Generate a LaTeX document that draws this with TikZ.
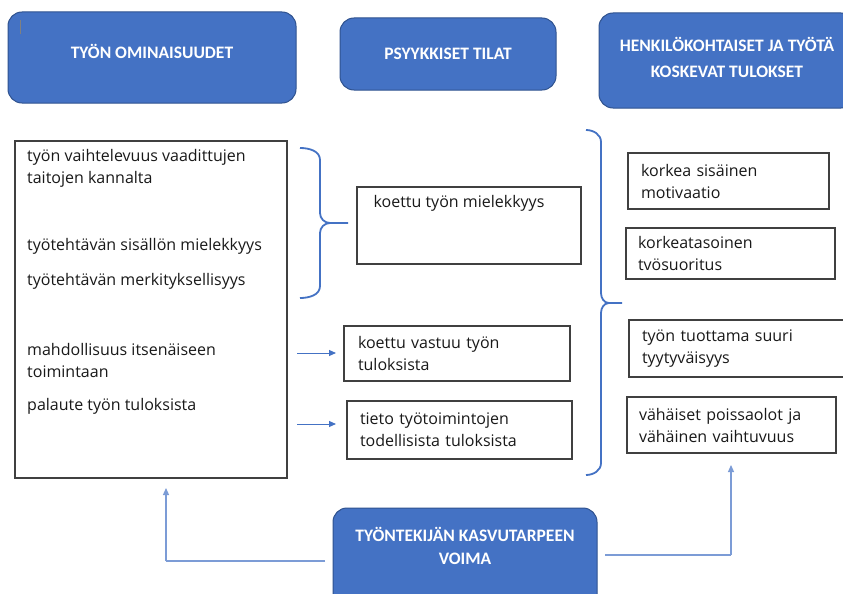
\documentclass[tikz,border=0pt]{standalone}
\usepackage{fontspec}
\setmainfont{Carlito}
\newfontfamily\bodyfont{Open Sans}
\usetikzlibrary{arrows.meta}
\definecolor{bfill}{HTML}{4472C4}
\definecolor{bdraw}{HTML}{2F528F}
\definecolor{gline}{HTML}{404040}
\definecolor{aline}{HTML}{4472C4}
\tikzset{
  bluebox/.style={draw=bdraw, line width=1pt, fill=bfill, rounded corners=14pt, text=white, align=center, font=\bfseries\fontsize{17.5}{26}\selectfont, inner sep=0pt},
  htxt/.style={text=white, align=center, inner sep=0pt},
  wbox/.style={draw=gline, line width=1.2pt, fill=white, inner sep=0pt},
  txt/.style={font=\bodyfont\fontsize{16}{22}\selectfont, align=left, inner sep=0pt, text=black!90},
  bracepath/.style={draw=aline, line width=1.8pt},
  arr/.style={draw=aline, line width=1pt, -{Triangle[length=7pt,width=6pt]}},
  conn/.style={draw=aline!70, line width=1.2pt}
}
\begin{document}
\begin{tikzpicture}[x=1pt,y=-1pt]
\useasboundingbox[fill=white] (0,0) rectangle (843,594);
% top header boxes
\node[bluebox, minimum width=288pt, minimum height=91pt] (h1) at (152,57.5) {};
\node[htxt, font=\bfseries\fontsize{17.5}{26}\selectfont] (h1t) at (152,51) {TYÖN OMINAISUUDET};
\draw[gray, line width=1pt] (20,20) -- (20,34);
\node[bluebox, minimum width=216pt, minimum height=72pt] (h2) at (448,54) {PSYYKKISET TILAT};
\node[bluebox, minimum width=256pt, minimum height=95pt] (h3) at (727,60.5) {};
\node[htxt, font=\bfseries\fontsize{17.5}{26}\selectfont] (h3t) at (727,57) {HENKILÖKOHTAISET JA TYÖTÄ\\KOSKEVAT TULOKSET};
% left box
\node[wbox, minimum width=272pt, minimum height=337pt] (left) at (151,309.5) {};
\node[txt, anchor=west] (l1) at (27,168) {työn vaihtelevuus vaadittujen\\taitojen kannalta};
\node[txt, anchor=west] (l2) at (27,246) {työtehtävän sisällön mielekkyys};
\node[txt, anchor=west] (l3) at (27,281) {työtehtävän merkityksellisyys};
\node[txt, anchor=west] (l4) at (27,360.5) {mahdollisuus itsenäiseen\\toimintaan};
\node[txt, anchor=west] (l5) at (27,406) {palaute työn tuloksista};
% brace 1
\draw[bracepath] (300,148) to[out=0,in=90] (320,160) -- (320,213) to[out=270,in=180] (330,223) -- (348,223);
\draw[bracepath] (330,223) to[out=180,in=90] (320,233) -- (320,286) to[out=270,in=0] (300,298);
% middle boxes
\node[wbox, minimum width=224pt, minimum height=77pt] (m1) at (469,225.5) {};
\node[txt, anchor=north west] (m1t) at ([shift={(17pt,-9pt)}]m1.north west) {koettu työn mielekkyys};
\node[wbox, minimum width=226pt, minimum height=55pt, text width=198pt, txt] (m2) at (457,353.5) {koettu vastuu työn\\tuloksista};
\node[wbox, minimum width=225pt, minimum height=58pt, text width=199pt, txt] (m3) at (459.5,430) {tieto työtoimintojen\\todellisista tuloksista};
\coordinate (a1s) at (297,353);
\coordinate (a2s) at (297,424);
\draw[arr] (a1s) -- (336,353);
\draw[arr] (a2s) -- (336,424);
% brace 2
\draw[bracepath] (586,130) to[out=0,in=90] (601,142) -- (601,293) to[out=270,in=180] (609,303) -- (622,303);
\draw[bracepath] (609,303) to[out=180,in=90] (601,313) -- (601,463) to[out=270,in=0] (586,475);
% right boxes
\node[wbox, minimum width=201pt, minimum height=56pt, text width=175pt, txt] (r1) at (728.5,181) {korkea sisäinen\\motivaatio};
\node[wbox, minimum width=209pt, minimum height=51pt, text width=185pt, txt] (r2) at (730.5,253.5) {korkeatasoinen\\tvösuoritus};
\node[wbox, minimum width=222pt, minimum height=57pt, text width=196pt, txt] (r3) at (740,348.5) {työn tuottama suuri\\tyytyväisyys};
\node[wbox, minimum width=209pt, minimum height=56pt, text width=185pt, txt] (r4) at (731.5,425) {vähäiset poissaolot ja\\vähäinen vaihtuvuus};
% bottom box
\node[bluebox, minimum width=264pt, minimum height=100pt] (bot) at (465,558) {};
\node[htxt, font=\bfseries\fontsize{17.5}{23}\selectfont] (bott) at (465,545.5) {TYÖNTEKIJÄN KASVUTARPEEN\\VOIMA};
\coordinate (lc) at (166,561);
\coordinate (rc) at (731,555);
\draw[conn] (325,561) -- (lc);
\draw[arr, draw=aline!70, line width=1.2pt] (lc) -- (166,488);
\draw[conn] (605,555) -- (rc);
\draw[arr, draw=aline!70, line width=1.2pt] (rc) -- (731,465);
\end{tikzpicture}
\end{document}
